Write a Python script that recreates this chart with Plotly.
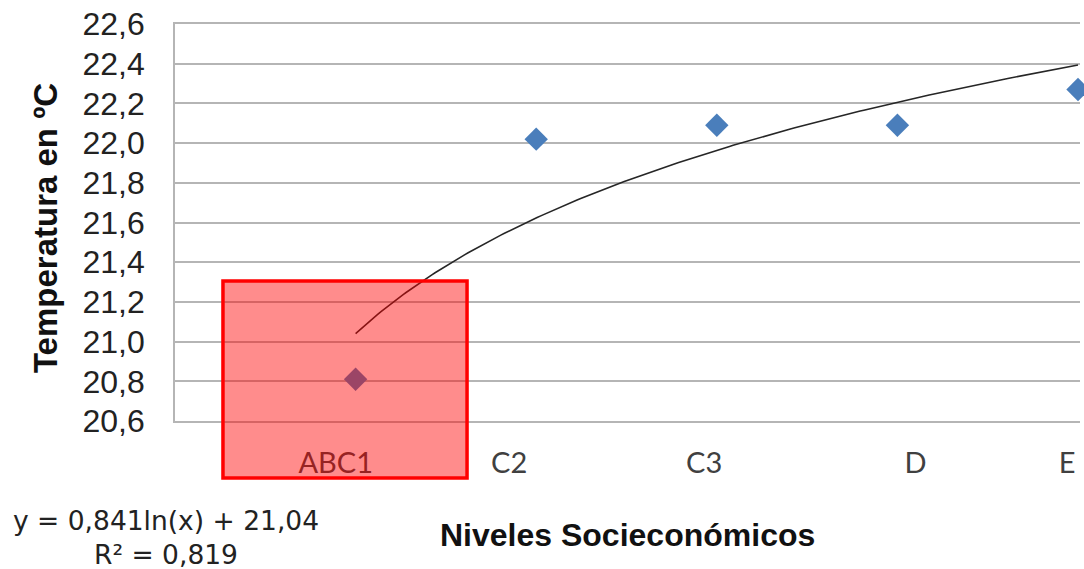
import numpy as np
import plotly.graph_objects as go

# Socio-economic levels and mean temperature (°C)
niveles = ["ABC1", "C2", "C3", "D", "E"]
nivel_x = [1, 2, 3, 4, 5]
temperatura = [20.81, 22.02, 22.09, 22.09, 22.27]

# Logarithmic trend line coefficients, as stated in the equation label
coef_a = 0.841
coef_b = 21.04
r2 = 0.819

# Where each category label sits along the x axis
label_pos = [0.89, 1.85, 2.93, 4.10, 4.94]

y_ticks = [20.6, 20.8, 21.0, 21.2, 21.4, 21.6, 21.8, 22.0, 22.2, 22.4, 22.6]
y_ticktext = [f"{v:.1f}".replace(".", ",") for v in y_ticks]

fmt = lambda v, d: f"{v:.{d}f}".replace(".", ",")

trend_x = np.linspace(nivel_x[0], nivel_x[-1], 200)
trend_y = coef_a * np.log(trend_x) + coef_b

GRID = "#B5B5B5"

fig = go.Figure()

fig.add_trace(go.Scatter(
    x=trend_x, y=trend_y, mode="lines",
    line=dict(color="#262626", width=1.6),
    hoverinfo="skip", showlegend=False,
))

fig.add_trace(go.Scatter(
    x=nivel_x, y=temperatura, mode="markers",
    marker=dict(symbol="diamond", size=18, color="#4A7EBB", line=dict(width=0)),
    cliponaxis=False, showlegend=False,
))

fig.update_layout(
    width=1084, height=569,
    margin=dict(l=175, r=4, t=24, b=148),
    paper_bgcolor="white", plot_bgcolor="white",
    font=dict(family="Liberation Sans, Arial, sans-serif", color="#222222"),
    xaxis=dict(
        range=[0, 5.011],
        tickmode="array", tickvals=label_pos, ticktext=niveles,
        ticks="", showgrid=False, zeroline=False,
        showline=True, mirror=True, linecolor=GRID, linewidth=1.8,
        tickfont=dict(family="Lato, sans-serif", size=29, color="#404040"),
        ticklabelstandoff=15,
    ),
    yaxis=dict(
        range=[20.6, 22.6],
        tickmode="array", tickvals=y_ticks, ticktext=y_ticktext,
        ticks="", showgrid=True, gridcolor=GRID, gridwidth=1.8,
        zeroline=False, showline=True, linecolor=GRID, linewidth=1.8,
        tickfont=dict(family="Liberation Sans, Arial, sans-serif", size=32, color="#222222"),
        ticklabelstandoff=22,
    ),
    shapes=[dict(
        type="rect", xref="paper", yref="paper",
        x0=0.053, x1=0.3227, y0=-0.1436, y1=0.3526,
        fillcolor="rgba(255,0,0,0.45)",
        line=dict(color="#FF0000", width=3.5),
        layer="above",
    )],
    annotations=[
        dict(
            text="Temperatura en ºC", textangle=-90,
            xref="paper", yref="paper", x=-0.1436, y=0.486,
            xanchor="center", yanchor="middle", showarrow=False,
            font=dict(family="Liberation Sans, Arial, sans-serif", size=33, color="#111111", weight="bold"),
        ),
        dict(
            text="Niveles Socieconómicos",
            xref="paper", yref="paper", x=0.5, y=-0.287,
            xanchor="center", yanchor="middle", showarrow=False,
            font=dict(family="Liberation Sans, Arial, sans-serif", size=32, color="#111111", weight="bold"),
        ),
        dict(
            text=f"y = {fmt(coef_a, 3)}ln(x) + {fmt(coef_b, 2)}<br>R² = {fmt(r2, 3)}",
            xref="paper", yref="paper", x=(166 - 175) / 905, y=(421 - 537) / 397,
            xanchor="center", yanchor="middle", showarrow=False, align="center",
            font=dict(family="DejaVu Sans, sans-serif", size=26.5, color="#222222"),
        ),
    ],
)

fig.write_html("out.html")
